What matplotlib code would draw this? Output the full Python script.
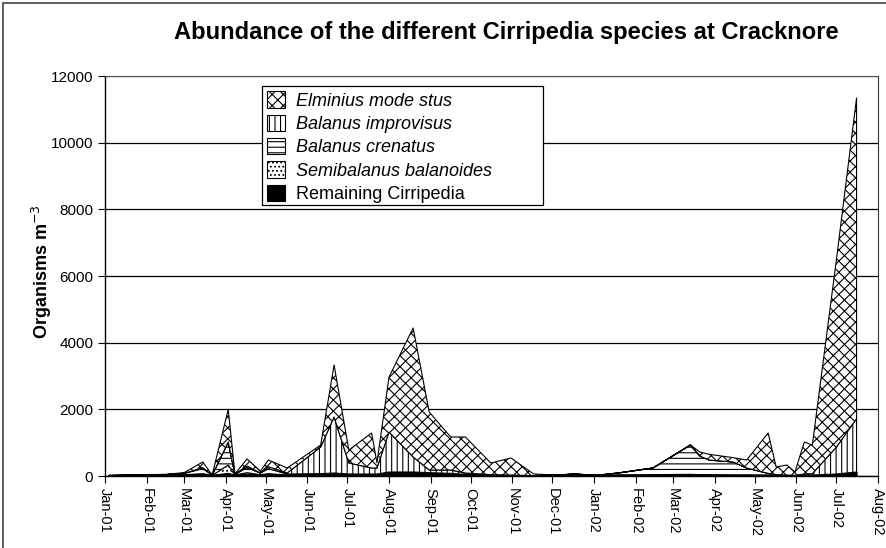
import datetime as dt
import numpy as np
import matplotlib
matplotlib.use('Agg')
from matplotlib import pyplot as plt
import matplotlib.dates as mdates
from matplotlib.patches import Patch, Rectangle

plt.rcParams['font.family'] = ['Liberation Sans', 'DejaVu Sans']
plt.rcParams['hatch.linewidth'] = 0.8

# sampling dates
dates = [
    '2001-01-04', '2001-01-18', '2001-02-01', '2001-02-15', '2001-03-01',
    '2001-03-15', '2001-03-22', '2001-04-03', '2001-04-08', '2001-04-17',
    '2001-04-27', '2001-05-03', '2001-05-17', '2001-06-11', '2001-06-21',
    '2001-07-02', '2001-07-19', '2001-07-23', '2001-08-01', '2001-08-19',
    '2001-08-31', '2001-09-16', '2001-09-27', '2001-10-16', '2001-10-31',
    '2001-11-17', '2001-12-03', '2001-12-17', '2002-01-03', '2002-01-19',
    '2002-02-14', '2002-03-14', '2002-03-21', '2002-03-28', '2002-04-15',
    '2002-04-25', '2002-05-11', '2002-05-17', '2002-05-25', '2002-05-31',
    '2002-06-07', '2002-06-13', '2002-07-01', '2002-07-16',
]

# organisms m-3 per species
remaining = [10, 15, 20, 25, 40, 40, 20, 80, 30, 50,
             40, 40, 30, 40, 60, 40, 40, 40, 80, 100,
             80, 60, 40, 20, 15, 10, 20, 40, 20, 30,
             40, 50, 40, 40, 30, 30, 20, 20, 20, 20,
             20, 30, 60, 120]
semibalanus = [0, 0, 0, 0, 0, 30, 0, 250, 0, 50,
               0, 30, 0, 0, 0, 0, 0, 0, 20, 0,
               0, 0, 0, 0, 0, 0, 0, 0, 0, 0,
               0, 0, 0, 0, 0, 0, 0, 0, 0, 0,
               0, 0, 0, 0]
crenatus = [5, 10, 10, 15, 40, 150, 10, 690, 20, 150,
            50, 150, 30, 30, 30, 20, 20, 20, 20, 20,
            20, 20, 10, 0, 0, 0, 0, 20, 0, 60,
            200, 880, 560, 440, 390, 210, 60, 20, 10, 0,
            0, 0, 0, 0]
improvisus = [0, 0, 0, 0, 0, 30, 0, 0, 0, 50,
              0, 60, 30, 800, 1680, 330, 180, 180, 1200, 450,
              80, 100, 40, 20, 15, 0, 0, 0, 0, 0,
              0, 0, 0, 0, 0, 0, 0, 0, 0, 0,
              40, 40, 810, 1600]
elminius = [5, 5, 10, 10, 20, 170, 0, 980, 10, 210,
            60, 200, 150, 60, 1560, 390, 1050, 160, 1650, 3870,
            1740, 990, 1080, 350, 510, 50, 10, 0, 0, 0,
            0, 0, 120, 170, 130, 240, 1210, 230, 300, 100,
            960, 860, 5630, 9620]

x = [dt.datetime.strptime(d, '%Y-%m-%d') for d in dates]
layers = [
    ('Remaining Cirripedia', remaining, None, 'black', False),
    ('Semibalanus balanoides', semibalanus, '....', 'white', True),
    ('Balanus crenatus', crenatus, '---', 'white', True),
    ('Balanus improvisus', improvisus, '|||', 'white', True),
    ('Elminius mode stus', elminius, 'xxx', 'white', True),
]

fig = plt.figure(figsize=(8.87, 5.48), dpi=100)
ax = fig.add_axes([105 / 887, 1 - 476 / 548, 773 / 887, 400 / 548])

base = np.zeros(len(x))
handles = []
for name, vals, hatch, face, italic in layers:
    top = base + np.array(vals, dtype=float)
    ax.fill_between(x, base, top, facecolor=face, edgecolor='black',
                    hatch=hatch, linewidth=0.8, zorder=3)
    handles.append(Patch(facecolor=face, edgecolor='black', hatch=hatch,
                         linewidth=0.8, label=name))
    base = top

ax.set_xlim(dt.datetime(2001, 1, 1), dt.datetime(2002, 8, 1))
ax.set_ylim(0, 12000)
ax.set_yticks(range(0, 12001, 2000))
ax.yaxis.grid(True, color='black', linewidth=0.9, zorder=0)
ax.set_axisbelow(True)

ax.xaxis.set_major_locator(mdates.MonthLocator())
ax.xaxis.set_major_formatter(mdates.DateFormatter('%b-%y'))
for lab in ax.get_xticklabels():
    lab.set_rotation(270)
ax.tick_params(axis='x', labelsize=10.5, length=5, direction='out', pad=4)
ax.tick_params(axis='y', labelsize=11, length=5, direction='out')
ax.spines['top'].set_color('#555555')
ax.spines['right'].set_color('#333333')
for side in ['left', 'bottom']:
    ax.spines[side].set_linewidth(1.0)

ax.set_ylabel('Organisms m$^{-3}$', fontsize=13, fontweight='bold')
ax.yaxis.set_label_coords(-0.066, 0.51)
fig.text(506 / 887, 1 - 33 / 548, 'Abundance of the different Cirripedia species at Cracknore',
         ha='center', va='center', fontsize=17.1, fontweight='bold')

# legend box is wider than its entries, as in the original
ax.add_patch(Rectangle((0.2031, 0.6775), 0.3635, 0.2975, transform=ax.transAxes,
                       facecolor='white', edgecolor='black', linewidth=0.9, zorder=4))
leg = ax.legend(handles=handles[::-1], loc='upper left',
                bbox_to_anchor=(0.203, 0.975), borderaxespad=0, frameon=False,
                fontsize=13, handlelength=1.0, handleheight=1.0, handletextpad=0.6,
                labelspacing=0.28, borderpad=0.3)
leg.set_zorder(5)
for txt, (name, vals, hatch, face, italic) in zip(leg.get_texts(), layers[::-1]):
    if italic:
        txt.set_fontstyle('italic')

fig.patches.append(Rectangle((3 / 887, -0.1), 1.2, 1.1 - 3 / 548, transform=fig.transFigure,
                             fill=False, edgecolor='#444444', linewidth=1.2))

fig.savefig('out.png', dpi=100)
